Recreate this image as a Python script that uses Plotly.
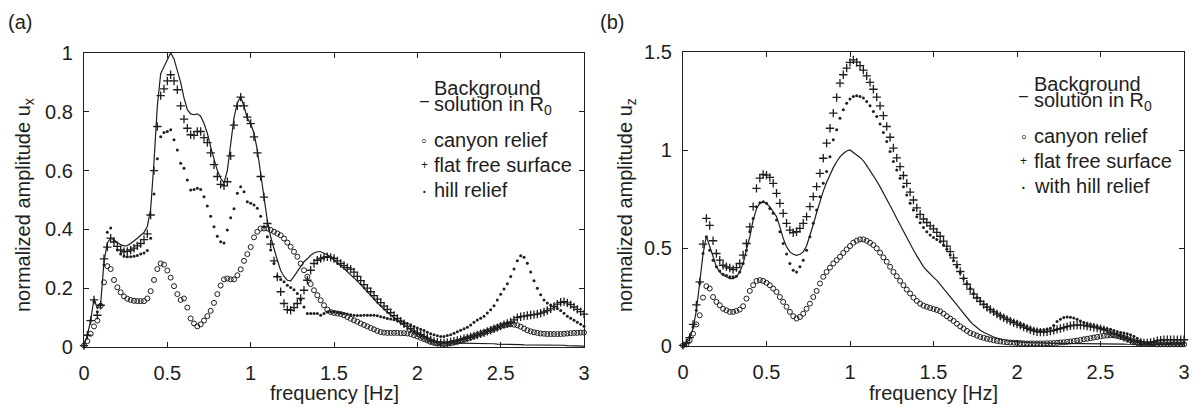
import numpy as np
import plotly.graph_objects as go

# frequency sampling grid [Hz] (0 .. 3 Hz, 151 samples)
freq = np.round(np.arange(151) * 0.02, 2)

# ---------------- panel (a): normalized amplitude u_x ----------------
bg_a = [0.005, 0.04, 0.09, 0.165, 0.13, 0.148, 0.29, 0.355, 0.37, 0.365,
        0.355, 0.348, 0.344, 0.345, 0.352, 0.36, 0.37, 0.38, 0.39, 0.41,
        0.47, 0.63, 0.82, 0.93, 0.955, 0.98, 1.0, 0.98, 0.94, 0.90,
        0.847, 0.807, 0.793, 0.79, 0.793, 0.785, 0.76, 0.727, 0.68, 0.636,
        0.60, 0.574, 0.558, 0.60, 0.70, 0.78, 0.83, 0.852, 0.818, 0.778,
        0.76, 0.727, 0.67, 0.59, 0.51, 0.43, 0.375, 0.33, 0.295, 0.26,
        0.24, 0.227, 0.225, 0.24, 0.256, 0.273, 0.29, 0.30, 0.312, 0.32,
        0.324, 0.324, 0.32, 0.314, 0.307, 0.296, 0.284, 0.275, 0.267, 0.257,
        0.247, 0.236, 0.224, 0.212, 0.2, 0.19, 0.176, 0.163, 0.15, 0.138,
        0.128, 0.118, 0.108, 0.099, 0.09, 0.082, 0.074, 0.066, 0.059, 0.053,
        0.048, 0.042, 0.036, 0.03, 0.024, 0.019, 0.016, 0.015, 0.014, 0.014,
        0.014, 0.013, 0.013, 0.013, 0.012, 0.012, 0.012, 0.012, 0.012, 0.011,
        0.011, 0.011, 0.011, 0.011, 0.01, 0.01, 0.01, 0.009, 0.009, 0.009,
        0.008, 0.008, 0.007, 0.007, 0.006, 0.006, 0.007, 0.007, 0.008, 0.008,
        0.008, 0.007, 0.007, 0.006, 0.006, 0.005, 0.005, 0.004, 0.004, 0.003,
        0.003]

canyon_a = [0.005, 0.02, 0.045, 0.07, 0.09, 0.14, 0.22, 0.275, 0.265, 0.228,
            0.203, 0.186, 0.172, 0.164, 0.16, 0.157, 0.156, 0.156, 0.156, 0.165,
            0.19, 0.228, 0.265, 0.284, 0.28, 0.26, 0.236, 0.207, 0.18, 0.16,
            0.165, 0.134, 0.097, 0.08, 0.07, 0.077, 0.09, 0.105, 0.123, 0.15,
            0.18, 0.209, 0.23, 0.233, 0.23, 0.23, 0.244, 0.264, 0.293, 0.316,
            0.34, 0.373, 0.392, 0.403, 0.403, 0.403, 0.398, 0.392, 0.386, 0.38,
            0.369, 0.355, 0.341, 0.324, 0.307, 0.284, 0.261, 0.239, 0.214, 0.193,
            0.176, 0.159, 0.142, 0.127, 0.119, 0.116, 0.114, 0.112, 0.108, 0.102,
            0.096, 0.091, 0.086, 0.08, 0.075, 0.07, 0.065, 0.06, 0.055, 0.051,
            0.049, 0.048, 0.048, 0.048, 0.048, 0.047, 0.047, 0.046, 0.044, 0.04,
            0.036, 0.031, 0.027, 0.022, 0.017, 0.014, 0.012, 0.011, 0.01, 0.011,
            0.013, 0.015, 0.018, 0.021, 0.025, 0.029, 0.033, 0.037, 0.041, 0.045,
            0.049, 0.053, 0.057, 0.062, 0.066, 0.071, 0.074, 0.076, 0.077, 0.076,
            0.074, 0.069, 0.063, 0.057, 0.053, 0.05, 0.048, 0.046, 0.045, 0.044,
            0.044, 0.044, 0.044, 0.044, 0.045, 0.046, 0.047, 0.048, 0.048, 0.049,
            0.049]

flat_a = [0.005, 0.04, 0.09, 0.16, 0.108, 0.142, 0.30, 0.34, 0.37, 0.357,
          0.342, 0.33, 0.324, 0.325, 0.33, 0.336, 0.344, 0.352, 0.365, 0.385,
          0.449, 0.60, 0.75, 0.855, 0.878, 0.905, 0.926, 0.905, 0.875, 0.82,
          0.775, 0.744, 0.722, 0.72, 0.733, 0.733, 0.712, 0.695, 0.66, 0.62,
          0.58, 0.553, 0.548, 0.562, 0.65, 0.755, 0.82, 0.85, 0.82, 0.782,
          0.76, 0.715, 0.66, 0.58, 0.51, 0.42, 0.35, 0.293, 0.239, 0.188,
          0.148, 0.127, 0.125, 0.134, 0.148, 0.165, 0.193, 0.227, 0.261, 0.284,
          0.295, 0.301, 0.305, 0.307, 0.305, 0.301, 0.293, 0.284, 0.277, 0.27,
          0.265, 0.255, 0.24, 0.226, 0.212, 0.2, 0.188, 0.175, 0.163, 0.151,
          0.139, 0.128, 0.117, 0.107, 0.097, 0.088, 0.079, 0.07, 0.062, 0.055,
          0.048, 0.042, 0.036, 0.03, 0.024, 0.019, 0.016, 0.014, 0.014, 0.015,
          0.017, 0.02, 0.022, 0.025, 0.028, 0.031, 0.034, 0.038, 0.041, 0.045,
          0.048, 0.053, 0.057, 0.062, 0.066, 0.071, 0.076, 0.08, 0.085, 0.092,
          0.1, 0.103, 0.105, 0.107, 0.109, 0.11, 0.112, 0.115, 0.119, 0.124,
          0.13, 0.138, 0.146, 0.152, 0.154, 0.15, 0.144, 0.136, 0.128, 0.12,
          0.112]

hill_a = [0.005, 0.04, 0.09, 0.155, 0.12, 0.145, 0.28, 0.39, 0.405, 0.36,
          0.33, 0.316, 0.309, 0.307, 0.307, 0.309, 0.311, 0.316, 0.32, 0.328,
          0.37, 0.52, 0.64, 0.715, 0.73, 0.733, 0.739, 0.705, 0.67, 0.625,
          0.608, 0.568, 0.534, 0.536, 0.54, 0.536, 0.511, 0.48, 0.445, 0.409,
          0.377, 0.358, 0.354, 0.398, 0.44, 0.47, 0.523, 0.545, 0.528, 0.494,
          0.489, 0.483, 0.472, 0.445, 0.409, 0.375, 0.33, 0.284, 0.241, 0.23,
          0.222, 0.21, 0.202, 0.195, 0.182, 0.161, 0.136, 0.114, 0.114, 0.114,
          0.114, 0.108, 0.114, 0.119, 0.12, 0.119, 0.117, 0.116, 0.114, 0.112,
          0.11, 0.108, 0.107, 0.107, 0.108, 0.108, 0.108, 0.108, 0.106, 0.103,
          0.1, 0.097, 0.095, 0.093, 0.09, 0.088, 0.084, 0.08, 0.076, 0.07,
          0.065, 0.06, 0.056, 0.05, 0.045, 0.042, 0.038, 0.036, 0.036, 0.039,
          0.042, 0.047, 0.052, 0.057, 0.062, 0.067, 0.075, 0.084, 0.092, 0.098,
          0.105, 0.116, 0.127, 0.14, 0.16, 0.179, 0.197, 0.215, 0.24, 0.265,
          0.293, 0.31, 0.305, 0.285, 0.255, 0.225, 0.2, 0.178, 0.16, 0.15,
          0.143, 0.137, 0.131, 0.124, 0.115, 0.105, 0.098, 0.091, 0.084, 0.077,
          0.071]

# ---------------- panel (b): normalized amplitude u_z ----------------
bg_b = [0.0, 0.015, 0.037, 0.09, 0.18, 0.32, 0.47, 0.56, 0.506, 0.446,
        0.404, 0.378, 0.361, 0.353, 0.344, 0.344, 0.353, 0.378, 0.42, 0.49,
        0.557, 0.642, 0.70, 0.727, 0.736, 0.727, 0.71, 0.685, 0.66, 0.608,
        0.549, 0.506, 0.48, 0.468, 0.463, 0.468, 0.48, 0.51, 0.56, 0.62,
        0.68, 0.74, 0.79, 0.835, 0.875, 0.91, 0.94, 0.965, 0.982, 0.995,
        1.0, 0.985, 0.975, 0.962, 0.945, 0.92, 0.895, 0.87, 0.842, 0.812,
        0.782, 0.75, 0.718, 0.685, 0.65, 0.617, 0.582, 0.55, 0.52, 0.49,
        0.46, 0.43, 0.405, 0.385, 0.365, 0.35, 0.335, 0.315, 0.295, 0.275,
        0.255, 0.232, 0.21, 0.188, 0.165, 0.145, 0.125, 0.108, 0.093, 0.08,
        0.07, 0.061, 0.053, 0.046, 0.04, 0.035, 0.031, 0.028, 0.025, 0.023,
        0.021, 0.02, 0.019, 0.018, 0.017, 0.016, 0.015, 0.015, 0.014, 0.014,
        0.014, 0.013, 0.013, 0.013, 0.013, 0.013, 0.012, 0.012, 0.012, 0.012,
        0.012, 0.012, 0.011, 0.011, 0.011, 0.011, 0.011, 0.011, 0.01, 0.01,
        0.01, 0.01, 0.01, 0.009, 0.009, 0.009, 0.009, 0.008, 0.008, 0.008,
        0.008, 0.008, 0.007, 0.007, 0.007, 0.007, 0.007, 0.006, 0.006, 0.006,
        0.006]

canyon_b = [0.003, 0.009, 0.029, 0.063, 0.11, 0.157, 0.247, 0.305, 0.293, 0.25,
            0.225, 0.208, 0.19, 0.182, 0.174, 0.174, 0.179, 0.186, 0.203, 0.242,
            0.281, 0.31, 0.332, 0.336, 0.332, 0.322, 0.31, 0.293, 0.276, 0.25,
            0.225, 0.2, 0.174, 0.152, 0.14, 0.148, 0.165, 0.19, 0.216, 0.25,
            0.281, 0.319, 0.353, 0.378, 0.4, 0.421, 0.438, 0.455, 0.475, 0.493,
            0.51, 0.527, 0.537, 0.544, 0.544, 0.537, 0.527, 0.515, 0.498, 0.476,
            0.452, 0.43, 0.404, 0.378, 0.356, 0.332, 0.31, 0.288, 0.268, 0.247,
            0.23, 0.216, 0.206, 0.2, 0.194, 0.189, 0.184, 0.177, 0.165, 0.152,
            0.14, 0.128, 0.114, 0.1, 0.089, 0.077, 0.066, 0.06, 0.053, 0.046,
            0.042, 0.037, 0.033, 0.029, 0.026, 0.023, 0.021, 0.019, 0.018, 0.017,
            0.016, 0.015, 0.014, 0.013, 0.013, 0.013, 0.013, 0.013, 0.013, 0.014,
            0.014, 0.015, 0.016, 0.018, 0.019, 0.021, 0.023, 0.025, 0.028, 0.031,
            0.034, 0.037, 0.04, 0.043, 0.046, 0.049, 0.052, 0.054, 0.055, 0.054,
            0.051, 0.047, 0.042, 0.036, 0.029, 0.022, 0.017, 0.013, 0.011, 0.01,
            0.01, 0.01, 0.009, 0.009, 0.009, 0.009, 0.009, 0.009, 0.009, 0.009,
            0.009]

flat_b = [0.003, 0.015, 0.043, 0.11, 0.21, 0.327, 0.52, 0.651, 0.615, 0.537,
          0.472, 0.438, 0.412, 0.404, 0.398, 0.39, 0.4, 0.421, 0.464, 0.523,
          0.608, 0.711, 0.804, 0.856, 0.875, 0.872, 0.86, 0.83, 0.779, 0.728,
          0.677, 0.626, 0.591, 0.578, 0.583, 0.6, 0.626, 0.66, 0.711, 0.762,
          0.813, 0.881, 0.958, 1.035, 1.111, 1.188, 1.268, 1.341, 1.384, 1.418,
          1.447, 1.46, 1.448, 1.43, 1.408, 1.378, 1.345, 1.31, 1.27, 1.225,
          1.175, 1.12, 1.065, 1.01, 0.96, 0.915, 0.87, 0.83, 0.785, 0.745,
          0.705, 0.672, 0.648, 0.63, 0.613, 0.598, 0.58, 0.56, 0.535, 0.51,
          0.482, 0.45, 0.415, 0.38, 0.345, 0.315, 0.29, 0.265, 0.245, 0.228,
          0.212, 0.198, 0.186, 0.174, 0.163, 0.153, 0.144, 0.135, 0.127, 0.119,
          0.112, 0.105, 0.097, 0.09, 0.083, 0.077, 0.073, 0.071, 0.071, 0.073,
          0.076, 0.08, 0.085, 0.089, 0.094, 0.099, 0.103, 0.106, 0.107, 0.106,
          0.105, 0.102, 0.099, 0.096, 0.092, 0.088, 0.083, 0.077, 0.071, 0.064,
          0.058, 0.052, 0.045, 0.038, 0.031, 0.025, 0.021, 0.018, 0.016, 0.016,
          0.018, 0.022, 0.027, 0.03, 0.032, 0.032, 0.032, 0.032, 0.032, 0.032,
          0.032]

hill_b = [0.003, 0.015, 0.046, 0.097, 0.182, 0.32, 0.472, 0.557, 0.489, 0.438,
          0.404, 0.383, 0.366, 0.36, 0.353, 0.353, 0.356, 0.378, 0.421, 0.489,
          0.583, 0.651, 0.711, 0.731, 0.736, 0.728, 0.702, 0.677, 0.643, 0.583,
          0.523, 0.469, 0.421, 0.387, 0.378, 0.404, 0.438, 0.489, 0.557, 0.626,
          0.694, 0.762, 0.83, 0.89, 0.966, 1.052, 1.103, 1.162, 1.205, 1.239,
          1.26, 1.273, 1.277, 1.273, 1.265, 1.248, 1.226, 1.196, 1.171, 1.133,
          1.089, 1.043, 0.992, 0.941, 0.898, 0.856, 0.813, 0.77, 0.728, 0.694,
          0.66, 0.629, 0.605, 0.583, 0.566, 0.554, 0.544, 0.532, 0.515, 0.493,
          0.464, 0.435, 0.404, 0.373, 0.344, 0.319, 0.293, 0.268, 0.247, 0.23,
          0.213, 0.2, 0.187, 0.177, 0.169, 0.16, 0.152, 0.143, 0.135, 0.128,
          0.122, 0.115, 0.108, 0.1, 0.092, 0.086, 0.082, 0.08, 0.081, 0.085,
          0.09, 0.105, 0.125, 0.137, 0.145, 0.148, 0.147, 0.143, 0.137, 0.128,
          0.12, 0.114, 0.11, 0.105, 0.1, 0.095, 0.091, 0.088, 0.085, 0.079,
          0.073, 0.069, 0.066, 0.063, 0.058, 0.05, 0.04, 0.028, 0.018, 0.012,
          0.01, 0.01, 0.011, 0.011, 0.012, 0.012, 0.013, 0.013, 0.014, 0.014,
          0.015]

x_ticks = [0, 0.5, 1, 1.5, 2, 2.5, 3]
x_tick_text = ["0", "0.5", "1", "1.5", "2", "2.5", "3"]
ya_ticks = [0, 0.2, 0.4, 0.6, 0.8, 1]
ya_tick_text = ["0", "0.2", "0.4", "0.6", "0.8", "1"]
yb_ticks = [0, 0.5, 1, 1.5]
yb_tick_text = ["0", "0.5", "1", "1.5"]

legend_a = ["canyon relief", "flat free surface", "hill relief"]
legend_b = ["canyon relief", "flat free surface", "with hill relief"]

# ---------------- figure ----------------
W, H = 1195, 409
FONT = "Liberation Sans, Arial, sans-serif"
FS = 20
INK = "#1e1e1e"


def px(x):
    return x / W


def py(y):
    return 1 - y / H


fig = go.Figure()

panels = [
    ("x", "y", bg_a, canyon_a, flat_a, hill_a),
    ("x2", "y2", bg_b, canyon_b, flat_b, hill_b),
]
for xa, ya, bg, cy, fl, hl in panels:
    fig.add_trace(go.Scatter(x=freq, y=bg, mode="lines", xaxis=xa, yaxis=ya,
                             line=dict(color=INK, width=1.2), showlegend=False,
                             cliponaxis=False))
    fig.add_trace(go.Scatter(x=freq, y=cy, mode="markers", xaxis=xa, yaxis=ya,
                             marker=dict(symbol="circle-open", size=5, color=INK,
                                         line=dict(width=1, color=INK)),
                             showlegend=False, cliponaxis=False))
    fig.add_trace(go.Scatter(x=freq, y=fl, mode="markers", xaxis=xa, yaxis=ya,
                             marker=dict(symbol="cross-thin-open", size=6, color=INK,
                                         line=dict(width=1.3, color=INK)),
                             showlegend=False, cliponaxis=False))
    fig.add_trace(go.Scatter(x=freq, y=hl, mode="markers", xaxis=xa, yaxis=ya,
                             marker=dict(symbol="circle", size=3, color=INK,
                                         line=dict(width=0)),
                             showlegend=False, cliponaxis=False))

axis_common = dict(showline=True, linecolor=INK, linewidth=1.3, mirror="ticks",
                   ticks="inside", ticklen=5, tickwidth=1, tickcolor=INK,
                   showgrid=False, zeroline=False, automargin=False,
                   tickfont=dict(family=FONT, size=FS, color=INK))

fig.update_layout(
    width=W, height=H,
    margin=dict(l=0, r=0, t=0, b=0, pad=0, autoexpand=False),
    paper_bgcolor="white", plot_bgcolor="white", showlegend=False,
    xaxis=dict(domain=[px(84), px(584)], range=[0, 3], tickvals=x_ticks,
               ticktext=x_tick_text, anchor="y", ticklabelstandoff=8, **axis_common),
    yaxis=dict(domain=[py(347), py(53)], range=[0, 1], tickvals=ya_ticks,
               ticktext=ya_tick_text, anchor="x", ticklabelstandoff=6, **axis_common),
    xaxis2=dict(domain=[px(683), px(1184)], range=[0, 3], tickvals=x_ticks,
                ticktext=x_tick_text, anchor="y2", ticklabelstandoff=8, **axis_common),
    yaxis2=dict(domain=[py(346), py(52)], range=[0, 1.5], tickvals=yb_ticks,
                ticktext=yb_tick_text, anchor="x2", ticklabelstandoff=6, **axis_common),
)

ann = []


def text(t, x, y, xanchor="left", yanchor="middle", size=FS, angle=0):
    ann.append(dict(text=t, x=px(x), y=py(y), xref="paper", yref="paper",
                    xanchor=xanchor, yanchor=yanchor, showarrow=False,
                    textangle=angle, font=dict(family=FONT, size=size, color=INK)))


# panel labels
text("(a)", 6, 22)
text("(b)", 598, 22)
# axis titles
text("normalized amplitude u<sub>x</sub>", 24, 205, xanchor="center", angle=-90)
text("normalized amplitude u<sub>z</sub>", 626, 205, xanchor="center", angle=-90)
text("frequency [Hz]", 334, 393, xanchor="center")
text("frequency [Hz]", 933, 393, xanchor="center")

# legends (drawn as text)
for (x0, y0, labels) in [(432, 0, legend_a), (1032, -4.5, legend_b)]:
    text("Background", x0, 88 + y0)
    text("solution in R<sub>0</sub>", x0, 106 + y0)
    text("\u2013", x0 - 8, 100 + y0, xanchor="center", size=16)
    syms = ["\u25e6", "+", "\u00b7"]
    sym_size = [16, 12, 20]
    for i, lab in enumerate(labels):
        yc = 140.5 + 24.8 * i + y0
        text(syms[i], x0 - 8, yc, xanchor="center", size=sym_size[i])
        text(lab, x0, yc)

fig.update_layout(annotations=ann)
fig.write_html("out.html")
